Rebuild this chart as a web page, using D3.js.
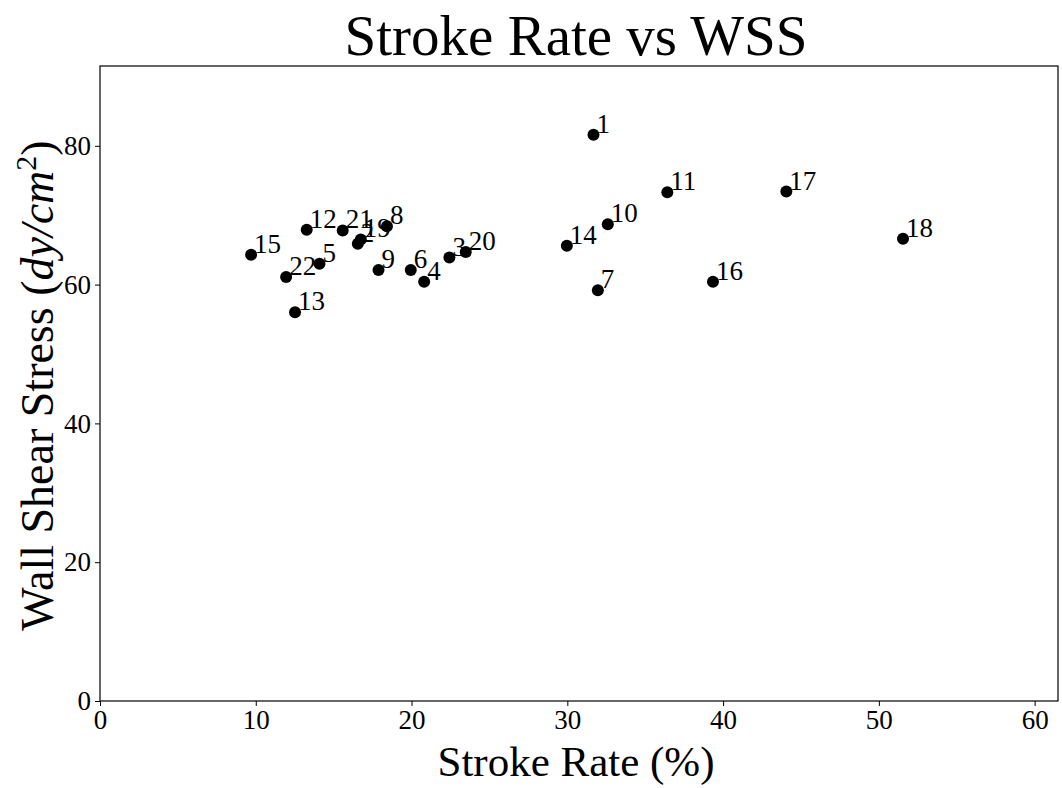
<!DOCTYPE html>
<html><head><meta charset="utf-8">
<script src="https://cdn.jsdelivr.net/npm/d3@7"></script>
<style>body{margin:0;background:#fff}svg{display:block}text{font-family:"Liberation Serif","DejaVu Serif",serif;fill:#000}</style>
</head><body>
<svg id="c" width="1062" height="788"></svg>
<script>
const labels = ["1","2","3","4","5","6","7","8","9","10","11","12","13","14","15","16","17","18","19","20","21","22"];
const strokeRate = [31.68,16.55,22.43,20.81,14.09,19.95,31.96,18.42,17.88,32.60,36.42,13.27,12.52,29.97,9.70,39.35,44.06,51.55,16.74,23.48,15.58,11.95];
const wss = [81.6,65.9,63.9,60.4,63.0,62.1,59.2,68.4,62.1,68.7,73.3,67.9,56.0,65.6,64.3,60.4,73.4,66.6,66.5,64.7,67.8,61.1];
const xTicks = [0,10,20,30,40,50,60];
const yTicks = [0,20,40,60,80];

const svg = d3.select("#c");
const L=100, R=1058, T=66, B=701;
const x = d3.scaleLinear().domain([0,61.5]).range([L,R]);
const y = d3.scaleLinear().domain([0,91.5]).range([B,T]);

svg.append("rect").attr("x",L).attr("y",T).attr("width",R-L).attr("height",B-T)
  .attr("fill","none").attr("stroke","#000").attr("stroke-width",1.2);

const xa = svg.append("g").attr("transform",`translate(0,${B})`)
  .call(d3.axisBottom(x).tickValues(xTicks).tickSize(5).tickPadding(4).tickFormat(d3.format("d")));
const ya = svg.append("g").attr("transform",`translate(${L},0)`)
  .call(d3.axisLeft(y).tickValues(yTicks).tickSize(5).tickPadding(4).tickFormat(d3.format("d")));
[xa,ya].forEach(a=>{a.select(".domain").remove();a.selectAll("line").attr("stroke","#000").attr("stroke-width",1);
  a.selectAll("text").style("font-family",'"Liberation Serif",serif').style("font-size","27px").attr("fill","#000");});

const g = svg.append("g");
const data = labels.map((l,i)=>({l, sx:strokeRate[i], w:wss[i]}));
g.selectAll("circle").data(data).join("circle")
  .attr("cx",d=>x(d.sx)).attr("cy",d=>y(d.w)).attr("r",6).attr("fill","#000");
g.selectAll("text.lab").data(data).join("text").attr("class","lab")
  .attr("x",d=>x(d.sx)+3).attr("y",d=>y(d.w)-2).style("font-size","27px").text(d=>d.l);

svg.append("text").attr("x",(L+R)/2-3).attr("y",55).attr("text-anchor","middle")
  .style("font-size","57px").text("Stroke Rate vs WSS");
svg.append("text").attr("x",(L+R)/2-3).attr("y",776).attr("text-anchor","middle")
  .style("font-size","43px").text("Stroke Rate (%)");
const yl = svg.append("text").attr("transform",`translate(53,${(T+B)/2+2}) rotate(-90)`).attr("text-anchor","middle")
  .style("font-size","46px");
yl.append("tspan").text("Wall Shear Stress (");
yl.append("tspan").style("font-style","italic").text("dy/cm");
yl.append("tspan").attr("dy",-17).style("font-size","30px").text("2");
yl.append("tspan").attr("dy",17).text(")");
</script>
</body></html>
